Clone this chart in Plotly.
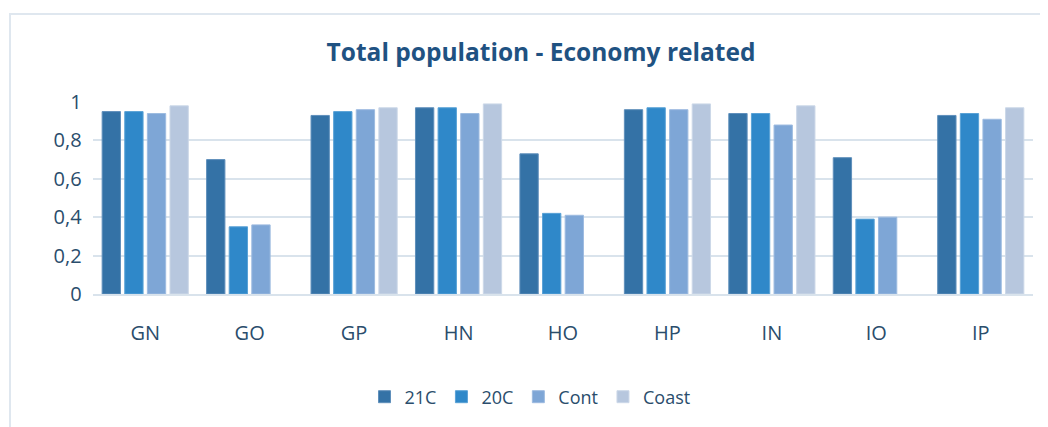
import plotly.graph_objects as go

categories = ["GN", "GO", "GP", "HN", "HO", "HP", "IN", "IO", "IP"]
series_names = ["21C", "20C", "Cont", "Coast"]
v_21c = [0.95, 0.70, 0.93, 0.97, 0.73, 0.96, 0.94, 0.71, 0.93]
v_20c = [0.95, 0.35, 0.95, 0.97, 0.42, 0.97, 0.94, 0.39, 0.94]
v_cont = [0.94, 0.36, 0.96, 0.94, 0.41, 0.96, 0.88, 0.40, 0.91]
v_coast = [0.98, None, 0.97, 0.99, None, 0.99, 0.98, None, 0.97]

colors = ["#3472a6", "#2f88c9", "#7ea6d6", "#b7c7de"]
line_colors = ["#5f8fbb", "#5aa2d6", "#9dbbe0", "#ccd8e8"]

fig = go.Figure()
for name, vals, c, lc in zip(series_names, [v_21c, v_20c, v_cont, v_coast], colors, line_colors):
    fig.add_trace(go.Bar(x=categories, y=vals, name=name,
                         marker=dict(color=c, line=dict(color=lc, width=1))))

font_family = "'Open Sans', sans-serif"
text_color = "#2a4d6c"

W, H = 1040, 419
fig.update_layout(
    width=W, height=H,
    margin=dict(l=85, r=15, t=94, b=133),
    paper_bgcolor="white", plot_bgcolor="white",
    separators=",.",
    barmode="group", bargap=0.134, bargroupgap=0.19,
    font=dict(family=font_family, color=text_color),
    title=dict(text="<b>Total population - Economy related</b>",
               x=533 / W, xref="container", xanchor="center",
               y=1 - 44 / H, yref="container", yanchor="middle",
               font=dict(size=24.5, color="#1f5282", family=font_family)),
    showlegend=True,
    legend=dict(orientation="h", xref="container", yref="container",
                x=522 / W, xanchor="center", y=30 / H, yanchor="middle",
                font=dict(size=18, color=text_color), traceorder="normal"),
    shapes=[dict(type="rect", xref="paper", yref="paper",
                 x0=-83 / 940, x1=1.05, y0=-0.8, y1=(H - 6 - 133) / 192,
                 line=dict(color="#dfe7ef", width=2), layer="below")],
)
fig.update_yaxes(range=[0, 1], dtick=0.2, showgrid=True, gridcolor="#d9e3ec",
                 gridwidth=1.5, zeroline=False, showline=False,
                 ticksuffix="\u00a0\u00a0",
                 tickfont=dict(size=20, color=text_color))
fig.update_xaxes(showline=True, linecolor="#d9e3ec", linewidth=1.5,
                 ticks="outside", ticklen=20, tickcolor="rgba(0,0,0,0)",
                 tickfont=dict(size=20, color=text_color))

fig.write_html("out.html")
